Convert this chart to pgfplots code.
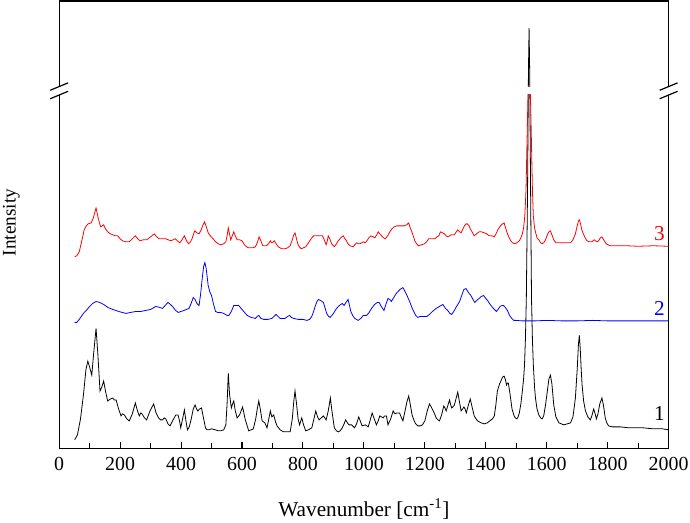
\documentclass[border=0pt]{standalone}
\usepackage{fontspec}
\setmainfont{Liberation Serif}
\usepackage{pgfplots}
\pgfplotsset{compat=1.18}

\begin{document}
\begin{tikzpicture}
\begin{axis}[
  scale only axis,
  width=459.4pt, height=337.5pt,
  xmin=0, xmax=2000, ymin=0, ymax=450,
  xtick={0,200,...,2000},
  minor x tick num=1,
  xtick pos=bottom,
  ytick=\empty,
  tick align=inside,
  major tick length=5pt,
  minor tick length=4pt,
  every tick/.style={black, line width=0.8pt},
  axis line style={line width=0.9pt},
  /pgf/number format/assume math mode=true,
  /pgf/number format/1000 sep={},
  xticklabel style={font=\fontsize{15}{18}\selectfont, yshift=-3pt},
  xlabel={Wavenumber [cm\textsuperscript{-1}]},
  xlabel style={at={(axis description cs:0.5,0)}, anchor=base, yshift=-51pt,
                font=\fontsize{16}{19}\selectfont},
  ylabel={Intensity},
  ylabel style={at={(axis description cs:-0.064,0.505)}, anchor=south, inner sep=0pt,
                font=\fontsize{14.5}{17}\selectfont},
  clip=true,
]

% spectrum 1 (black)
\addplot[black, line width=0.6pt] coordinates {
(51,9)(60,14)(70,30)(80,55)(88,80)(94,88)(100,82)(107,74)(113,95)(121,121)(127,95)(134,58)(140,62)(146,68)(152,58)(159,48)(168,50)(176,51)(181,49)(187,49)(195,40)(203,33)(208,35)(214,34)(222,30)(230,28)(240,35)(250,46)(257,38)(263,33)(268,36)(272,35)(280,31)(287,29)(298,38)(310,45)(318,36)(326,31)(333,29)(339,29)(345,31)(350,30)(357,25)(364,23)(372,28)(383,34)(390,34)(395,28)(399,21)(405,30)(411,39)(416,28)(421,19)(427,22)(432,28)(440,40)(446,44)(451,40)(455,38)(461,40)(467,41)(473,32)(480,21)(485,19)(491,19)(500,20)(513,19)(522,18)(530,18)(540,19)(547,24)(551,45)(555,76)(559,55)(565,41)(569,45)(573,48)(578,38)(584,31)(592,34)(602,42)(610,30)(622,18)(630,19)(637,20)(645,30)(650,40)(655,48)(660,40)(666,28)(675,26)(682,21)(688,30)(693,38)(698,32)(704,34)(710,27)(715,23)(725,19)(736,17)(748,17)(758,17)(765,30)(770,48)(774,58)(779,45)(784,30)(789,24)(796,31)(802,24)(809,18)(818,19)(829,21)(836,30)(842,38)(848,32)(853,29)(860,31)(867,33)(876,29)(883,38)(890,51)(895,38)(903,21)(910,18)(916,17)(922,18)(929,21)(935,25)(940,29)(946,26)(951,24)(960,24)(969,21)(976,25)(983,32)(988,28)(994,23)(1005,24)(1014,22)(1020,28)(1027,36)(1034,30)(1041,24)(1047,28)(1052,33)(1058,32)(1063,31)(1068,33)(1074,33)(1079,24)(1088,30)(1096,38)(1102,35)(1108,36)(1117,36)(1122,32)(1128,28)(1135,38)(1141,47)(1147,53)(1152,45)(1158,34)(1165,28)(1170,25)(1177,23)(1185,23)(1192,24)(1200,28)(1207,37)(1215,45)(1221,42)(1226,39)(1232,35)(1237,31)(1243,29)(1248,28)(1255,34)(1262,43)(1266,41)(1270,38)(1275,43)(1281,49)(1285,44)(1288,41)(1292,42)(1297,44)(1302,50)(1308,57)(1313,48)(1319,38)(1324,40)(1328,42)(1332,40)(1336,36)(1342,43)(1349,50)(1355,42)(1362,33)(1368,30)(1373,28)(1385,26)(1395,25)(1405,26)(1417,29)(1422,30)(1428,33)(1433,44)(1438,58)(1445,65)(1451,69)(1455,72)(1460,73)(1464,70)(1468,64)(1471,66)(1474,66)(1477,60)(1480,54)(1486,40)(1493,33)(1497,31)(1502,30)(1506,32)(1510,36)(1515,45)(1520,58)(1524,70)(1527,84)(1530,110)(1533,151)(1537,260)(1540,380)(1542,423)(1544,380)(1547,260)(1550,151)(1553,110)(1556,84)(1560,62)(1563,51)(1568,40)(1574,34)(1580,31)(1585,30)(1590,33)(1596,44)(1602,58)(1607,70)(1612,74)(1617,65)(1623,44)(1630,32)(1640,26)(1648,25)(1656,24)(1667,25)(1678,26)(1686,32)(1694,51)(1700,80)(1704,105)(1707,114)(1710,100)(1713,80)(1716,64)(1721,48)(1727,38)(1735,32)(1743,29)(1748,33)(1754,40)(1758,36)(1763,30)(1768,35)(1774,45)(1781,51)(1786,44)(1792,31)(1797,26)(1803,23)(1815,22)(1841,22)(1870,21)(1900,21)(1917,21)(1950,20)(1980,20)(2000,19)
};

% spectrum 2 (blue)
\addplot[blue, line width=0.6pt] coordinates {
(51,127)(58,127)(66,130)(75,134)(82,137)(89,139)(100,143)(110,146)(121,148)(133,147)(146,145)(160,142)(176,140)(195,138)(219,136)(235,137)(252,138)(268,138)(284,139)(300,140)(317,143)(330,142)(339,141)(348,144)(357,147)(365,145)(372,143)(382,139)(391,137)(400,138)(410,139)(418,140)(426,141)(433,146)(440,152)(446,150)(452,146)(459,144)(464,155)(469,170)(474,183)(478,187)(482,182)(486,172)(489,164)(494,158)(500,154)(506,146)(513,138)(520,137)(530,137)(540,136)(551,134)(557,134)(565,138)(573,144)(580,144)(589,144)(600,140)(611,136)(617,134)(630,132)(644,131)(650,133)(655,134)(662,131)(671,130)(685,130)(698,131)(705,133)(712,135)(718,133)(725,131)(741,131)(750,133)(756,134)(762,132)(769,131)(785,130)(800,130)(813,129)(822,130)(829,133)(835,138)(840,143)(846,148)(851,150)(858,149)(867,147)(872,142)(878,136)(884,133)(889,132)(895,134)(900,136)(908,140)(916,143)(924,145)(929,146)(935,144)(941,147)(948,150)(952,145)(957,138)(963,134)(970,131)(981,129)(990,131)(998,134)(1009,134)(1017,137)(1025,141)(1035,145)(1044,147)(1050,147)(1057,143)(1066,139)(1072,145)(1079,151)(1085,150)(1090,148)(1098,152)(1106,156)(1118,160)(1128,162)(1135,158)(1140,155)(1150,148)(1160,140)(1170,134)(1177,132)(1185,133)(1192,133)(1200,133)(1207,133)(1215,135)(1225,138)(1237,141)(1248,143)(1259,145)(1268,141)(1275,139)(1282,136)(1288,135)(1295,138)(1302,142)(1314,148)(1322,155)(1328,160)(1335,161)(1343,157)(1351,154)(1358,150)(1364,147)(1370,149)(1378,151)(1385,153)(1393,154)(1400,151)(1406,149)(1412,146)(1417,144)(1425,141)(1435,138)(1440,140)(1447,143)(1453,144)(1458,144)(1464,142)(1471,139)(1478,134)(1485,131)(1492,129)(1498,129)(1520,128.5)(1560,128.5)(1600,129)(1650,128.5)(1700,128.5)(1750,129)(1800,128.5)(1850,128.5)(1900,128.5)(1950,128.5)(2000,128.5)
};

% spectrum 3 (red)
\addplot[red, line width=0.6pt] coordinates {
(51,193)(58,194)(66,198)(75,210)(82,220)(89,224)(95,226)(105,227)(112,232)(121,242)(128,232)(136,223)(141,224)(146,225)(152,221)(159,218)(168,216)(176,215)(184,214)(192,214)(200,211)(208,209)(219,208)(230,208)(240,211)(250,214)(258,211)(265,209)(276,210)(287,210)(300,213)(312,216)(320,213)(328,211)(340,211)(350,211)(358,210)(366,209)(374,210)(381,211)(388,209)(396,207)(403,210)(411,214)(418,209)(425,206)(431,208)(436,211)(441,216)(445,219)(452,217)(459,216)(466,220)(472,225)(477,228)(482,224)(489,217)(496,214)(502,212)(508,210)(513,208)(522,206)(530,205)(540,206)(547,208)(551,214)(555,222)(559,216)(563,210)(568,214)(573,218)(578,214)(584,210)(592,210)(600,209)(606,206)(611,204)(620,202)(628,202)(636,202)(644,203)(650,207)(656,213)(662,209)(668,204)(680,204)(687,206)(693,209)(697,207)(700,207)(706,209)(712,206)(719,203)(730,201)(742,201)(750,202)(758,204)(765,210)(770,215)(774,217)(778,212)(783,206)(788,203)(794,201)(802,202)(809,203)(818,207)(829,212)(835,214)(840,214)(851,214)(858,214)(864,214)(870,210)(876,205)(880,209)(883,214)(888,211)(894,206)(903,203)(910,206)(916,209)(924,212)(932,214)(938,211)(943,209)(948,206)(954,204)(965,203)(970,205)(976,207)(982,206)(987,206)(993,207)(998,208)(1004,207)(1010,209)(1016,212)(1023,214)(1030,213)(1036,212)(1042,215)(1047,218)(1052,216)(1058,214)(1064,212)(1070,211)(1078,214)(1085,218)(1092,221)(1099,223)(1108,224)(1117,224)(1125,224)(1132,224)(1140,225)(1147,227)(1152,222)(1156,219)(1162,214)(1167,209)(1173,206)(1179,204)(1189,205)(1199,206)(1206,208)(1212,211)(1222,211)(1232,211)(1240,213)(1246,214)(1251,218)(1258,217)(1264,216)(1270,214)(1275,213)(1281,214)(1286,215)(1292,215)(1297,215)(1303,218)(1308,220)(1314,218)(1319,217)(1325,221)(1330,224)(1335,226)(1340,226)(1345,224)(1349,221)(1355,218)(1362,214)(1370,216)(1378,218)(1386,218)(1395,217)(1403,216)(1411,214)(1420,214)(1428,213)(1435,217)(1441,221)(1446,223)(1451,225)(1455,226)(1460,227)(1465,222)(1471,216)(1477,212)(1482,209)(1488,207)(1495,206)(1502,207)(1510,209)(1515,212)(1520,216)(1524,222)(1528,234)(1532,260)(1536,320)(1539,362)(1546,362)(1549,320)(1553,260)(1556,234)(1560,222)(1563,218)(1568,212)(1574,210)(1580,207)(1585,206)(1590,207)(1596,210)(1602,215)(1607,218)(1612,219)(1617,215)(1623,210)(1630,207)(1645,207)(1660,207)(1678,207)(1686,210)(1694,216)(1700,224)(1704,229)(1707,230)(1711,226)(1715,220)(1720,216)(1726,212)(1732,209)(1740,208)(1748,208)(1752,209)(1756,210)(1760,209)(1765,208)(1770,209)(1776,212)(1781,213)(1787,210)(1795,206)(1801,205)(1808,204)(1830,204)(1863,204)(1900,203.5)(1950,204)(2000,203.5)
};

% gap of the broken y axis
\fill[white] (axis cs:0,357) rectangle (axis cs:2000,364);

\node[anchor=base east, inner sep=0pt, font=\fontsize{16}{19}\selectfont, text=red]   at (axis cs:1988,209) {3};
\node[anchor=base east, inner sep=0pt, font=\fontsize{16}{19}\selectfont, text=blue]  at (axis cs:1988,134) {2};
\node[anchor=base east, inner sep=0pt, font=\fontsize{16}{19}\selectfont, text=black] at (axis cs:1988,28) {1};

\coordinate (LA) at (axis cs:0,364);
\coordinate (LB) at (axis cs:0,355.5);
\coordinate (RA) at (axis cs:2000,364);
\coordinate (RB) at (axis cs:2000,355.5);
\end{axis}

% break marks on both y axis lines
\foreach \a/\b in {LA/LB, RA/RB} {
  \fill[white] ([xshift=-2pt]\b) rectangle ([xshift=2pt]\a);
  \draw[line width=0.9pt] ([shift={(-6.75pt,-2.8pt)}]\a) -- ([shift={(6.75pt,2.8pt)}]\a);
  \draw[line width=0.9pt] ([shift={(-6.75pt,-2.8pt)}]\b) -- ([shift={(6.75pt,2.8pt)}]\b);
}

\pgfresetboundingbox
\path (-44.6pt,-55.5pt) rectangle (475.5pt,338.25pt);
\end{tikzpicture}
\end{document}
